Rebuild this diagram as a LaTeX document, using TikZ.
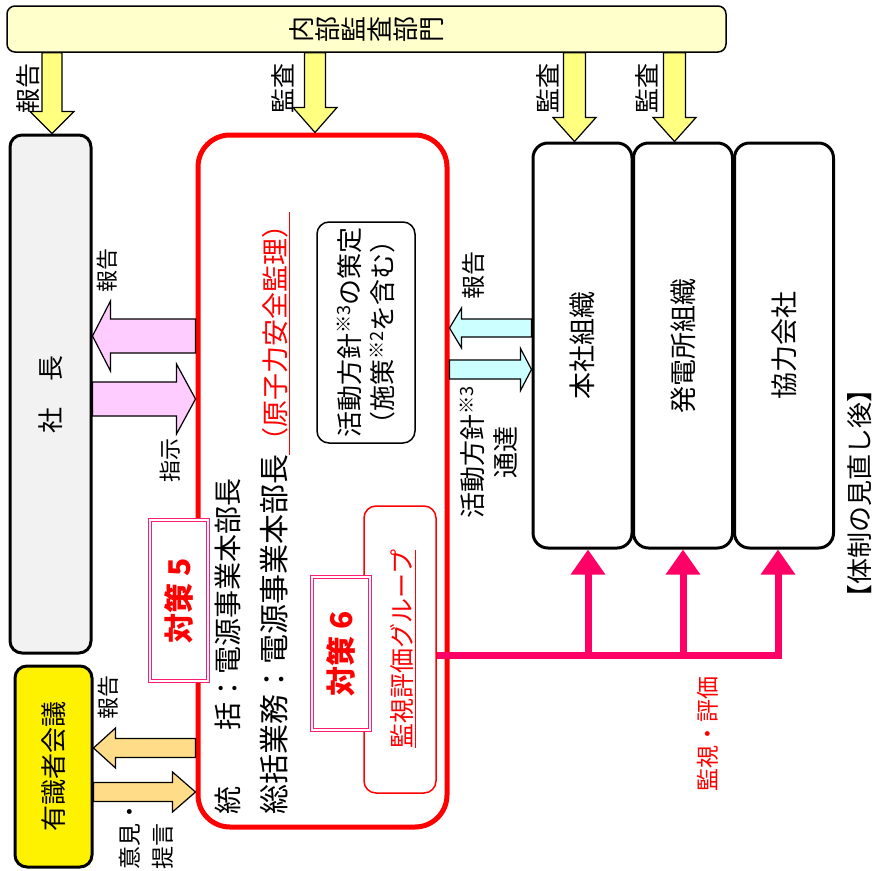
\documentclass[tikz,border=0pt]{standalone}
\usepackage{fontspec}
\setmainfont{Noto Sans CJK JP}
\usepackage{graphicx}
\usetikzlibrary{calc,arrows.meta}
\definecolor{auditfill}{HTML}{FFFFCC}
\definecolor{yarrowc}{HTML}{FFFF80}
\definecolor{grayfill}{HTML}{F2F2F2}
\definecolor{pinkfill}{HTML}{FFCCFF}
\definecolor{cyanfill}{HTML}{CCFFFF}
\definecolor{orangefill}{HTML}{FFDD88}
\definecolor{mag}{HTML}{FF0066}
\definecolor{dblpink}{HTML}{FF1A75}
\newcommand\fs[1]{\fontsize{#1}{#1}\selectfont}
\newcommand\vchar[1]{\rotatebox{90}{\rule[-0.12em]{0pt}{1em}\makebox[1em]{#1}}}
\newcommand\blockarrow[6]{%
  \coordinate (bah) at ($(#3)!#6!(#2)$);
  \path[#1] ($(#2)!#4!90:(#3)$) -- ($(bah)!#4!90:(#3)$) -- ($(bah)!#5!90:(#3)$) -- (#3)
    -- ($(bah)!#5!-90:(#3)$) -- ($(bah)!#4!-90:(#3)$) -- ($(#2)!#4!-90:(#3)$) -- cycle;}
\tikzset{
  lbl/.style={rotate=90, inner sep=0pt},
  orgbox/.style={draw, line width=3pt, fill=white, rounded corners=15pt, minimum width=99pt, minimum height=405pt, inner sep=0pt},
  dblbox/.style={draw=dblpink, line width=0.8pt, double=white, double distance=2pt, fill=white, inner sep=0pt},
  taisaku/.style={lbl, text=red, font={\fs{30}\bfseries}},
  yarr/.style={draw=black, line width=1.2pt, fill=yarrowc},
  parr/.style={draw=black, line width=1.2pt, fill=pinkfill},
  carr/.style={draw=black, line width=1.2pt, fill=cyanfill},
  oarr/.style={draw=black, line width=1.2pt, fill=orangefill},
  mon/.style={draw=mag, line width=7pt, -{Triangle[length=25pt,width=33pt]}},
}
\begin{document}
\begin{tikzpicture}[x=1pt, y=-1pt]
\fill[white] (0,0) rectangle (878,870);
\useasboundingbox (0,0) rectangle (878,870);

% --- boxes ---
\node[draw, line width=1.5pt, fill=auditfill, rounded corners=8pt, minimum width=719pt, minimum height=46pt, inner sep=0pt, font=\fs{26}] (audit) at (366.5,29)
  {\vchar{内}\vchar{部}\vchar{監}\vchar{査}\vchar{部}\vchar{門}};

\node[draw, line width=3pt, fill=grayfill, rounded corners=12pt, minimum width=81pt, minimum height=518pt, inner sep=0pt] (shacho) at (50.5,394) {};
\node[lbl, font=\fs{26}] (shachotxt) at (shacho.center) {社　長};

\node[draw, line width=3pt, fill=yellow, rounded corners=12pt, minimum width=77pt, minimum height=201pt, inner sep=0pt] (yushiki) at (53.5,766.5) {};
\node[lbl, font=\fs{26}] (yushikitxt) at (yushiki.center) {有識者会議};

\node[draw=red, line width=5pt, fill=white, rounded corners=32pt, minimum width=249pt, minimum height=692pt, inner sep=0pt] (redbox) at (322.5,481) {};

\node[draw, line width=1.5pt, fill=white, rounded corners=12pt, minimum width=98pt, minimum height=221pt, inner sep=0pt] (policy) at (366,332.5) {};
\node[lbl, align=center, font={\fontsize{26}{33}\selectfont}] (policytxt) at (policy.center)
  {活動方針\textsuperscript{※3}の策定\\（施策\textsuperscript{※2}を含む）};

\node[lbl, anchor=west, font=\fs{28}] (line1) at (228,815) {統　　括：電源事業本部長};
\node[lbl, anchor=west, font=\fs{30}] (line2) at (275,815)
  {総括業務：電源事業本部長\textcolor{red}{\fs{27}\underline{（原子力安全監理）}}};

\node[dblbox, minimum width=58pt, minimum height=161pt] (t5) at (179,600.5) {};
\node[taisaku] (t5txt) at (t5.center) {対策 5};

\node[draw=red, line width=1.5pt, fill=white, rounded corners=12pt, minimum width=72pt, minimum height=287pt, inner sep=0pt] (grp) at (400,649.5) {};
\node[lbl, text=red, font=\fs{25}] (grptxt) at (403,649) {\underline{監視評価グループ}};

\node[dblbox, minimum width=58pt, minimum height=153pt] (t6) at (341,653.5) {};
\node[taisaku] (t6txt) at (t6.center) {対策 6};

\node[orgbox] (hq) at (582.5,345.5) {};
\node[orgbox] (pp) at (683,345.5) {};
\node[orgbox] (cob) at (784,345.5) {};
\node[lbl, font=\fs{27}] (hqtxt) at (hq.center) {本社組織};
\node[lbl, font=\fs{27}] (pptxt) at (pp.center) {発電所組織};
\node[lbl, font=\fs{27}] (cobtxt) at (cob.center) {協力会社};

% --- helper coordinates ---
\coordinate (x1) at (52,0);
\coordinate (x2) at (315,0);
\coordinate (x3) at (574.5,0);
\coordinate (x4) at (674.5,0);
\coordinate (r336) at (0,336);
\coordinate (r399) at (0,399);
\coordinate (r328) at (0,328);
\coordinate (r369) at (0,369.5);
\coordinate (r748) at (0,748);
\coordinate (r792) at (0,792);
\coordinate (r655) at (0,655);

% --- yellow audit arrows ---
\coordinate (ya1) at (audit.south -| x1); \coordinate (yb1) at (shacho.north -| x1);
\coordinate (ya2) at (audit.south -| x2); \coordinate (yb2) at (redbox.north -| x2);
\coordinate (ya3) at (audit.south -| x3); \coordinate (yb3) at (hq.north -| x3);
\coordinate (ya4) at (audit.south -| x4); \coordinate (yb4) at (pp.north -| x4);
\blockarrow{yarr}{ya1}{yb1}{10pt}{22pt}{22pt}
\blockarrow{yarr}{ya2}{yb2}{10.5pt}{22pt}{25pt}
\blockarrow{yarr}{ya3}{yb3}{11pt}{21.5pt}{24pt}
\blockarrow{yarr}{ya4}{yb4}{11pt}{21.5pt}{24pt}

% --- pink arrows ---
\coordinate (pa) at (redbox.west |- r336); \coordinate (pb) at (shacho.east |- r336);
\coordinate (pc) at (shacho.east |- r399); \coordinate (pd) at (redbox.west |- r399);
\blockarrow{parr}{pa}{pb}{17pt}{35pt}{18pt}
\blockarrow{parr}{pc}{pd}{17pt}{35pt}{19pt}

% --- cyan arrows ---
\coordinate (ca) at (hq.west |- r328); \coordinate (cb) at (redbox.east |- r328);
\coordinate (cc) at (redbox.east |- r369); \coordinate (cd) at (hq.west |- r369);
\blockarrow{carr}{ca}{cb}{9pt}{20pt}{12pt}
\blockarrow{carr}{cc}{cd}{9.5pt}{21pt}{11pt}

% --- orange arrows ---
\coordinate (oa) at (redbox.west |- r748); \coordinate (ob) at (yushiki.east |- r748);
\coordinate (oc) at (yushiki.east |- r792); \coordinate (od) at (redbox.west |- r792);
\blockarrow{oarr}{oa}{ob}{9.5pt}{20pt}{22pt}
\blockarrow{oarr}{oc}{od}{9.5pt}{20pt}{23pt}

% --- monitoring lines ---
\coordinate (m0) at (grp.east |- r655);
\coordinate (j1) at (588,655);
\coordinate (j2) at (683,655);
\coordinate (j3) at (778,655);
\draw[mon] (m0) -- (j3) -- (cob.south -| j3);
\draw[mon] (j1) -- (hq.south -| j1);
\draw[mon] (j2) -- (pp.south -| j2);

% --- labels ---
\node[lbl, font=\fs{25}] (lab1) at (28,88) {報告};
\node[lbl, font=\fs{25}] (lab2) at (283,88) {監査};
\node[lbl, font=\fs{25}] (lab3) at (548,88) {監査};
\node[lbl, font=\fs{25}] (lab4) at (647,88) {監査};
\node[lbl, font=\fs{22}] (lab5) at (107,270) {報告};
\node[lbl, font=\fs{22}] (lab6) at (170,460) {指示};
\node[lbl, font=\fs{22}] (lab7) at (108,697) {報告};
\node[lbl, anchor=west, align=left, font={\fontsize{23}{33}\selectfont}] (lab8) at (146.5,870) {意見・\\提言};
\node[lbl, font=\fs{24}] (lab9) at (473,275) {報告};
\node[lbl, align=center, font={\fontsize{26}{33}\selectfont}] (lab10) at (489,452) {活動方針\textsuperscript{※3}\\通達};
\node[lbl, text=red, font=\fs{23}] (lab11) at (708,734) {監視・評価};
\node[lbl, font=\fs{26}] (title) at (860,493) {【体制の見直し後】};
\end{tikzpicture}
\end{document}
